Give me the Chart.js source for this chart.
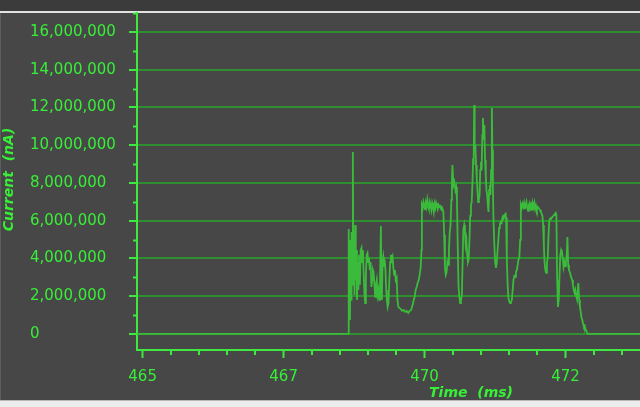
<!DOCTYPE html>
<html>
<head>
<meta charset="utf-8">
<script src="https://cdn.jsdelivr.net/npm/chart.js@4.4.1/dist/chart.umd.min.js"></script>
<style>
  html, body { margin: 0; padding: 0; width: 640px; height: 407px; overflow: hidden; background: #474747; }
  #topbar { position: absolute; left: 0; top: 0; width: 640px; height: 11px; background: #3b3b3b; border-bottom: 2px solid #e2e2e2; }
  #edge { position: absolute; left: 0; top: 13px; width: 1px; height: 387px; background: #5c5c5c; }
  #status { position: absolute; left: 0; top: 400px; width: 640px; height: 7px; background: #ececec; border-top: 1px solid #b8b8b8; }
  canvas { position: absolute; left: 0; top: 0; }
</style>
</head>
<body>
<div id="topbar"></div>
<div id="edge"></div>
<canvas id="trace" width="640" height="407"></canvas>
<div id="status"></div>
<script>
// ── Data ─────────────────────────────────────────────────────
const TIME_MS = [
  464.90, 468.645, 468.650, 468.659, 468.668, 468.677, 468.686, 468.695, 468.704, 468.716, 468.728,
  468.737, 468.746, 468.757, 468.769, 468.780, 468.790, 468.801, 468.813, 468.826, 468.840,
  468.852, 468.867, 468.881, 468.893, 468.907, 468.920, 468.932, 468.946, 468.959, 468.973,
  468.987, 469.000, 469.014, 469.028, 469.042, 469.056, 469.071, 469.083, 469.095, 469.110,
  469.124, 469.138, 469.152, 469.166, 469.180, 469.195, 469.209, 469.225, 469.234, 469.243,
  469.255, 469.267, 469.280, 469.292, 469.306, 469.319, 469.331, 469.345, 469.360, 469.375,
  469.390, 469.404, 469.418, 469.432, 469.446, 469.461, 469.475, 469.489, 469.505, 469.519,
  469.535, 469.555, 469.576, 469.602, 469.629, 469.656, 469.682, 469.709, 469.735, 469.762,
  469.789, 469.806, 469.824, 469.842, 469.859, 469.877, 469.895, 469.913, 469.930, 469.945,
  469.952, 469.966, 469.980, 469.992, 470.007, 470.021, 470.035, 470.049, 470.063, 470.078,
  470.092, 470.106, 470.120, 470.134, 470.149, 470.163, 470.177, 470.191, 470.205, 470.219,
  470.234, 470.248, 470.262, 470.276, 470.290, 470.305, 470.319, 470.333, 470.347, 470.361,
  470.375, 470.390, 470.404, 470.418, 470.432, 470.446, 470.460, 470.475, 470.485, 470.494,
  470.505, 470.517, 470.531, 470.546, 470.560, 470.574, 470.586, 470.601, 470.617, 470.631,
  470.645, 470.661, 470.675, 470.687, 470.702, 470.716, 470.728, 470.741, 470.755, 470.769,
  470.781, 470.796, 470.808, 470.822, 470.836, 470.851, 470.861, 470.870, 470.879, 470.888,
  470.900, 470.913, 470.925, 470.937, 470.950, 470.962, 470.975, 470.987, 471.000, 471.012,
  471.024, 471.035, 471.047, 471.060, 471.072, 471.085, 471.097, 471.109, 471.122, 471.133,
  471.145, 471.156, 471.168, 471.180, 471.193, 471.202, 471.212, 471.223, 471.237, 471.251,
  471.265, 471.280, 471.294, 471.308, 471.322, 471.336, 471.351, 471.365, 471.379, 471.393,
  471.407, 471.421, 471.436, 471.446, 471.459, 471.473, 471.487, 471.503, 471.517, 471.531,
  471.547, 471.562, 471.576, 471.592, 471.606, 471.620, 471.636, 471.650, 471.664, 471.680,
  471.695, 471.707, 471.721, 471.735, 471.750, 471.764, 471.778, 471.792, 471.806, 471.820,
  471.835, 471.849, 471.863, 471.877, 471.891, 471.905, 471.920, 471.934, 471.948, 471.962,
  471.976, 471.991, 472.005, 472.019, 472.033, 472.047, 472.062, 472.076, 472.090, 472.102,
  472.115, 472.127, 472.141, 472.155, 472.170, 472.184, 472.198, 472.212, 472.226, 472.241,
  472.255, 472.269, 472.283, 472.297, 472.312, 472.326, 472.337, 472.351, 472.365, 472.379,
  472.393, 472.407, 472.421, 472.435, 472.450, 472.464, 472.478, 472.492, 472.506, 472.521,
  472.533, 472.546, 472.560, 472.574, 472.588, 472.602, 472.617, 472.631, 472.645, 472.659,
  472.673, 472.687, 472.702, 472.714, 472.726, 472.741, 472.755, 472.769, 472.783, 472.797,
  472.812, 472.826, 472.840, 472.854, 472.868, 472.882, 472.900, 473.82
];

const CURRENT_NA = [
  0, 0, 5560000, 320000, 4190000, 740000, 4980000, 1800000, 5400000, 2600000, 9640000,
  3130000, 4980000, 2070000, 5770000, 2860000, 4450000, 1800000, 3810000, 2330000, 4190000,
  2600000, 4450000, 4560000, 3810000, 4450000, 3130000, 2230000, 1640000, 3130000, 4190000,
  4290000, 3810000, 4030000, 3390000, 3810000, 2490000, 2860000, 3390000, 3280000, 2600000,
  1960000, 2600000, 2860000, 2070000, 2330000, 1800000, 2600000, 5720000, 2330000, 1800000,
  3810000, 4080000, 3550000, 3920000, 3390000, 2330000, 1800000, 1430000, 1640000, 2860000,
  3810000, 4190000, 3920000, 4080000, 3500000, 3130000, 3390000, 2860000, 2970000, 1800000,
  1430000, 1380000, 1320000, 1220000, 1270000, 1170000, 1220000, 1110000, 1220000, 1270000,
  1540000, 1800000, 1960000, 2330000, 2490000, 2700000, 2860000, 3130000, 3500000, 4450000,
  6830000, 6680000, 6990000, 6830000, 6570000, 6940000, 6730000, 7100000, 6780000, 6620000,
  6990000, 6830000, 6570000, 6940000, 6730000, 6460000, 6890000, 6680000, 6940000, 6780000,
  6620000, 6830000, 6730000, 6780000, 6680000, 6730000, 6620000, 6460000, 5250000, 3500000,
  3130000, 3280000, 3810000, 3660000, 4450000, 5400000, 5770000, 7100000, 8160000, 8950000,
  8260000, 7890000, 8000000, 7630000, 7790000, 7100000, 4980000, 2600000, 1960000, 1640000,
  1800000, 2070000, 3920000, 5510000, 5770000, 5400000, 4720000, 4980000, 4190000, 3810000,
  3920000, 4980000, 6250000, 6830000, 6990000, 8160000, 9320000, 8950000, 12130000, 9750000,
  10010000, 8950000, 8260000, 7630000, 6990000, 7100000, 7360000, 8690000, 9110000, 8690000,
  10540000, 11440000, 10280000, 11070000, 9220000, 8420000, 7630000, 7360000, 6830000, 6460000,
  7630000, 7890000, 7360000, 8690000, 11970000, 9750000, 7630000, 5930000, 4720000, 3810000,
  3500000, 3760000, 4450000, 4980000, 5620000, 5830000, 5930000, 5880000, 6150000, 6250000,
  6200000, 6300000, 6360000, 6150000, 3810000, 2600000, 1910000, 1700000, 1640000, 1700000,
  1800000, 2330000, 2860000, 3070000, 3020000, 3280000, 3390000, 3660000, 3920000, 4030000,
  4980000, 6830000, 6680000, 6890000, 6730000, 6940000, 6620000, 6830000, 6990000, 6680000,
  6520000, 6830000, 6940000, 6680000, 6830000, 6570000, 6890000, 6730000, 6940000, 6620000,
  6780000, 6570000, 6730000, 6680000, 6620000, 6570000, 6460000, 6360000, 6250000, 5770000,
  4720000, 3810000, 3390000, 3230000, 3810000, 4030000, 5250000, 6040000, 6090000, 6150000,
  6150000, 6200000, 6250000, 6300000, 6360000, 6410000, 6300000, 2860000, 1430000, 1800000,
  3130000, 4190000, 4450000, 4340000, 4030000, 3550000, 3810000, 3600000, 3810000, 4190000,
  5140000, 3660000, 3390000, 3280000, 3130000, 2970000, 2860000, 2600000, 2330000, 2170000,
  2330000, 2010000, 1850000, 2230000, 2700000, 1800000, 1430000, 1170000, 850000, 740000,
  530000, 370000, 420000, 260000, 160000, 50000, 0, 0
];

const Y_TICKS  = [0, 2000000, 4000000, 6000000, 8000000, 10000000, 12000000, 14000000, 16000000];
const Y_MINOR  = [1000000, 3000000, 5000000, 7000000, 9000000, 11000000, 13000000, 15000000, 17000000];
const X_MAJOR  = [465, 467.5, 470, 472.5];
const X_LABELS = ['465', '467', '470', '472'];
const X_MINOR  = [465.5, 466, 466.5, 467, 468, 468.5, 469, 469.5, 470.5, 471, 471.5, 472, 473, 473.5];
const X_TITLE  = 'Time  (ms)';
const Y_TITLE  = 'Current  (nA)';

// ── Look ─────────────────────────────────────────────────────
const AXIS  = '#3ee83e';
const LABEL = '#38ef38';
const GRID  = 'rgba(44,150,44,0.9)';
const TRACE = '#3bbb3b';
const FONT  = "'DejaVu Sans'";

// minor ticks + axis titles
const extras = {
  id: 'extras',
  afterDraw(chart) {
    const { ctx, chartArea: a, scales: { x, y } } = chart;
    ctx.save();
    ctx.strokeStyle = AXIS;
    ctx.lineWidth = 2;
    ctx.beginPath();
    Y_MINOR.forEach(v => {
      const py = Math.round(y.getPixelForValue(v)) + 0.5;
      ctx.moveTo(a.left - 4, py); ctx.lineTo(a.left, py);
    });
    X_MINOR.forEach(v => {
      const px = Math.round(x.getPixelForValue(v));
      ctx.moveTo(px, a.bottom); ctx.lineTo(px, a.bottom + 5);
    });
    ctx.stroke();

    ctx.fillStyle = LABEL;
    ctx.font = `italic bold 14px ${FONT}`;
    ctx.textAlign = 'center';
    ctx.textBaseline = 'middle';
    ctx.fillText(X_TITLE, 471, 393);
    ctx.translate(9, (a.top + a.bottom) / 2 - 2);
    ctx.rotate(-Math.PI / 2);
    ctx.fillText(Y_TITLE, 0, 0);
    ctx.restore();
  }
};

new Chart(document.getElementById('trace').getContext('2d'), {
  type: 'line',
  data: {
    datasets: [{
      data: TIME_MS.map((t, i) => ({ x: t, y: CURRENT_NA[i] })),
      borderColor: TRACE,
      borderWidth: 1.8,
      pointRadius: 0,
      tension: 0,
      fill: false,
    }]
  },
  options: {
    responsive: false,
    animation: false,
    events: [],
    layout: { padding: { left: 30, top: 13, right: 0, bottom: 0 } },
    plugins: { legend: { display: false }, tooltip: { enabled: false } },
    scales: {
      x: {
        type: 'linear',
        min: 464.9,
        max: 473.82,
        afterBuildTicks: s => { s.ticks = [...X_MAJOR, ...X_MINOR].sort((p, q) => p - q).map(v => ({ value: v })); },
        afterFit: s => { s.height = 57; s.paddingLeft = 0; s.paddingRight = 0; },
        ticks: {
          autoSkip: false,
          maxRotation: 0,
          padding: 10,
          color: LABEL,
          font: { size: 15, family: FONT },
          callback: v => { const i = X_MAJOR.indexOf(v); return i < 0 ? '' : X_LABELS[i]; }
        },
        grid: {
          drawOnChartArea: false,
          drawTicks: true,
          tickLength: 8,
          tickWidth: 2,
          tickColor: c => (c.tick && X_MAJOR.includes(c.tick.value)) ? AXIS : 'rgba(0,0,0,0)',
        },
        border: { display: true, color: AXIS, width: 2 },
      },
      y: {
        min: -850000,
        max: 17000000,
        afterBuildTicks: s => { s.ticks = Y_TICKS.map(v => ({ value: v })); },
        afterFit: s => { s.width = 107; s.paddingTop = 0; s.paddingBottom = 0; },
        ticks: {
          crossAlign: 'far',
          color: LABEL,
          font: { size: 15, family: FONT },
          callback: v => v.toLocaleString('en-US'),
        },
        grid: {
          color: GRID,
          lineWidth: 2,
          drawTicks: true,
          tickLength: 8,
          tickWidth: 2,
          tickColor: AXIS,
        },
        border: { display: true, color: AXIS, width: 2 },
      }
    }
  },
  plugins: [extras]
});
</script>
</body>
</html>
